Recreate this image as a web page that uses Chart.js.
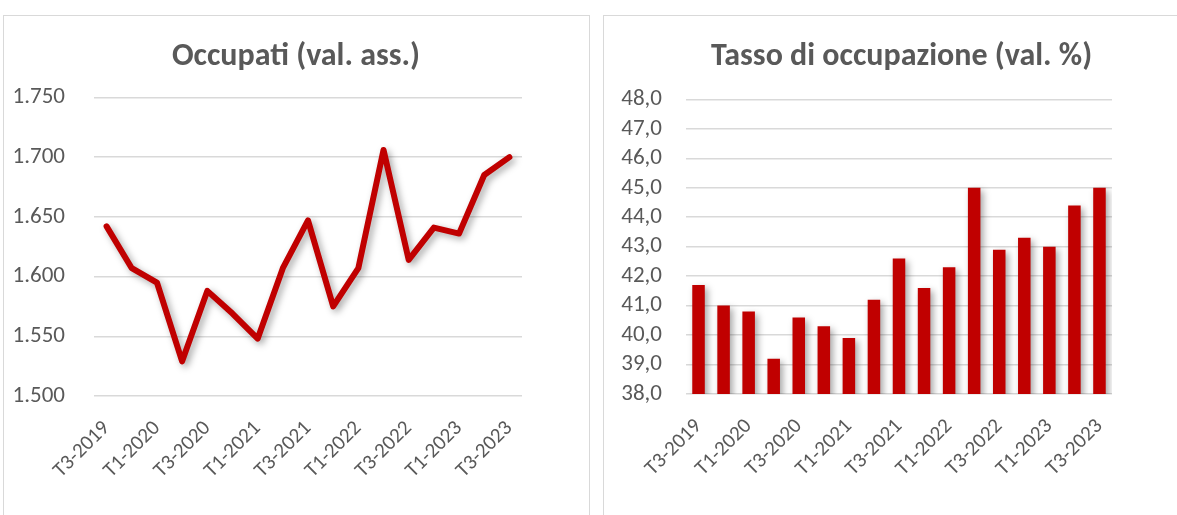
<!DOCTYPE html>
<html lang="it">
<head>
    <meta charset="UTF-8">
    <title>Occupati e tasso di occupazione</title>
    <script src="https://cdn.jsdelivr.net/npm/chart.js"></script>
    <style>
        body {
            margin: 0;
            background: #ffffff;
            width: 1177px;
            height: 515px;
            overflow: hidden;
            position: relative;
            font-family: Carlito, Lato, sans-serif;
        }
        .panel {
            position: absolute;
            top: 15px;
            height: 520px;
            border: 1px solid #d9d9d9;
            box-sizing: border-box;
        }
        #p1 { left: 3px; width: 587px; }
        #p2 { left: 603px; width: 600px; }
        .wrap { position: absolute; }
        #w1 { left: 4px; top: 16px; width: 584px; height: 499px; }
        #w2 { left: 604px; top: 16px; width: 595px; height: 499px; }
    </style>
</head>
<body>
    <div class="panel" id="p1"></div>
    <div class="panel" id="p2"></div>
    <div class="wrap" id="w1"><canvas id="occupati"></canvas></div>
    <div class="wrap" id="w2"><canvas id="tasso"></canvas></div>

    <script>
        // trimestri
        const periods = [
            "T3-2019", "T4-2019", "T1-2020", "T2-2020", "T3-2020", "T4-2020",
            "T1-2021", "T2-2021", "T3-2021", "T4-2021", "T1-2022", "T2-2022",
            "T3-2022", "T4-2022", "T1-2023", "T2-2023", "T3-2023"
        ];
        // occupati, migliaia
        const occupati = [1642, 1607, 1595, 1529, 1588, 1569, 1548, 1607, 1647,
                          1575, 1607, 1706, 1614, 1641, 1636, 1685, 1700];
        // tasso di occupazione, %
        const tasso = [41.7, 41.0, 40.8, 39.2, 40.6, 40.3, 39.9, 41.2, 42.6,
                       41.6, 42.3, 45.0, 42.9, 43.3, 43.0, 44.4, 45.0];

        const RED = "#c00000";
        const GREY = "#595959";
        const GRID = "#d9d9d9";
        const FONT = "Carlito, Lato, sans-serif";

        // ombra stile Excel sotto le serie
        const shadowPlugin = {
            id: "shadow",
            beforeDatasetsDraw(chart) {
                const c = chart.ctx;
                c.save();
                c.shadowColor = "rgba(0,0,0,0.35)";
                c.shadowBlur = 7;
                c.shadowOffsetX = 3;
                c.shadowOffsetY = 3;
            },
            afterDatasetsDraw(chart) {
                chart.ctx.restore();
            }
        };

        function xScale(height) {
            return {
                offset: true,
                grid: { display: false },
                border: { display: false },
                ticks: {
                    autoSkip: false,
                    minRotation: 45,
                    maxRotation: 45,
                    color: GREY,
                    font: { family: FONT, size: 21 },
                    padding: 12,
                    callback: function(val, i) {
                        return i % 2 === 0 ? this.getLabelForValue(val) : "";
                    }
                },
                afterFit: s => { s.height = height; }
            };
        }

        // asse vuoto a destra, solo per lasciare margine e tenere il titolo centrato
        function spacer(width) {
            return {
                position: "right",
                grid: { display: false },
                border: { display: false },
                ticks: { display: false },
                afterFit: s => { s.width = width; }
            };
        }

        function titleOpts(text, top, bottom) {
            return {
                display: true,
                text: text,
                color: GREY,
                font: { family: FONT, size: 32, weight: "bold", lineHeight: 1.2 },
                padding: { top: top, bottom: bottom }
            };
        }

        new Chart(document.getElementById("occupati"), {
            type: "line",
            data: {
                labels: periods,
                datasets: [{
                    data: occupati,
                    borderColor: RED,
                    borderWidth: 6,
                    pointRadius: 0,
                    tension: 0,
                    borderJoinStyle: "round",
                    borderCapStyle: "round"
                }]
            },
            options: {
                responsive: true,
                maintainAspectRatio: false,
                animation: false,
                layout: { padding: 0 },
                plugins: {
                    legend: { display: false },
                    tooltip: { enabled: false },
                    title: titleOpts("Occupati (val. ass.)", 22, 21)
                },
                scales: {
                    x: xScale(119),
                    y: {
                        min: 1500,
                        max: 1750,
                        grid: { color: GRID, lineWidth: 1.5, drawTicks: false },
                        border: { display: false },
                        ticks: {
                            stepSize: 50,
                            autoSkip: false,
                            color: GREY,
                            padding: 29,
                            font: { family: FONT, size: 23 },
                            callback: v => Math.floor(v / 1000) + "." + String(v % 1000).padStart(3, "0")
                        },
                        afterFit: s => { s.width = 90; }
                    },
                    y2: spacer(66)
                }
            },
            plugins: [shadowPlugin]
        });

        new Chart(document.getElementById("tasso"), {
            type: "bar",
            data: {
                labels: periods,
                datasets: [{
                    data: tasso,
                    backgroundColor: RED,
                    categoryPercentage: 1,
                    barPercentage: 0.5
                }]
            },
            options: {
                responsive: true,
                maintainAspectRatio: false,
                animation: false,
                layout: { padding: 0 },
                plugins: {
                    legend: { display: false },
                    tooltip: { enabled: false },
                    title: titleOpts("Tasso di occupazione (val. %)", 22, 23)
                },
                scales: {
                    x: xScale(121),
                    y: {
                        min: 38,
                        max: 48,
                        grid: { color: GRID, lineWidth: 1.5, drawTicks: false },
                        border: { display: false },
                        ticks: {
                            stepSize: 1,
                            autoSkip: false,
                            color: GREY,
                            padding: 24,
                            font: { family: FONT, size: 23 },
                            callback: v => v.toFixed(1).replace(".", ",")
                        },
                        afterFit: s => { s.width = 82; }
                    },
                    y2: spacer(87)
                }
            },
            plugins: [shadowPlugin]
        });
    </script>
</body>
</html>
